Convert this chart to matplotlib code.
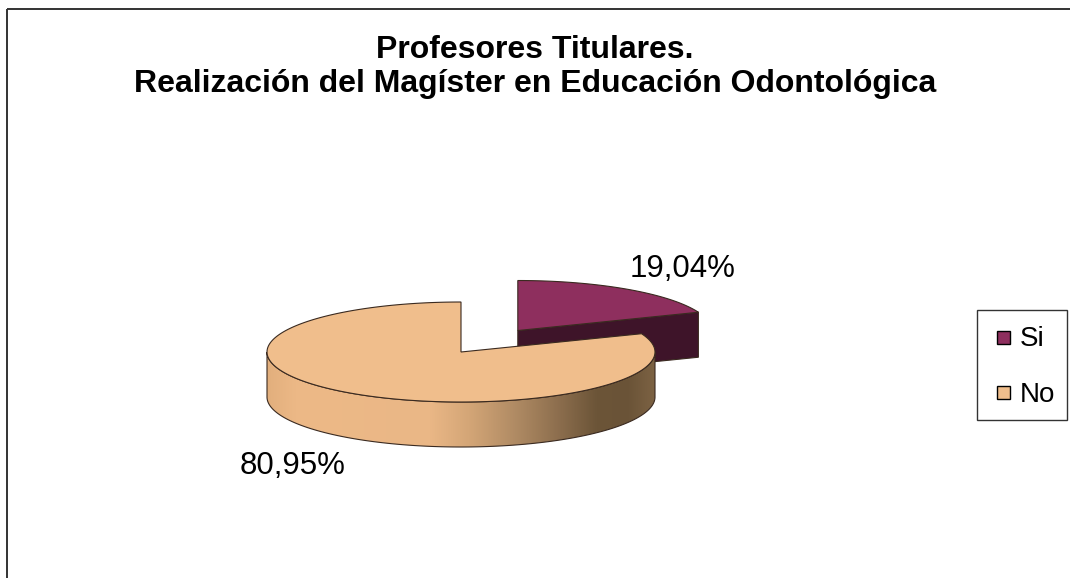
import numpy as np
import matplotlib
matplotlib.use("Agg")
import matplotlib.pyplot as plt
from matplotlib.patches import Polygon, Rectangle, Patch
from matplotlib.colors import LinearSegmentedColormap
from matplotlib.legend_handler import HandlerPatch

# ---- data ----
categories = ["Si", "No"]
values = [19.04, 80.95]
title_lines = ["Profesores Titulares.", "Realización del Magíster en Educación Odontológica"]

# ---- styles ----
top_colors = ["#8E2F5E", "#F0BE8C"]
side_colors = ["#3E1429", "#6E5638"]
edge_col = "#3a2a20"

W, H = 1070, 578
fig = plt.figure(figsize=(W / 100, H / 100), dpi=100)
ax = fig.add_axes([0, 0, 1, 1])
ax.set_xlim(0, W)
ax.set_ylim(H, 0)
ax.axis("off")

# chart frame
ax.add_patch(Rectangle((7, 9), W, H, fill=False, edgecolor="#333333", lw=1.4, zorder=1))

# pie geometry (pixel space)
cx, cy = 461.0, 352.0
rx, ry = 194.0, 50.0
depth = 45.0
explode = [0.52, 0.0]

total = sum(values)
fracs = [v / total for v in values]
start = 90.0
angles = []
a = start
for f in fracs:
    angles.append((a - f * 360.0, a))
    a -= f * 360.0


def pt(theta_deg, ox, oy, dz=0.0):
    t = np.radians(theta_deg)
    return ox + rx * np.cos(t), oy - ry * np.sin(t) + dz


def arc(t0, t1, ox, oy, dz=0.0, n=200):
    ts = np.linspace(t0, t1, n)
    return [pt(t, ox, oy, dz) for t in ts]


cmap = LinearSegmentedColormap.from_list(
    "side",
    [(0.0, "#E2AF7D"), (0.08, "#EDB987"), (0.42, "#EAB786"), (0.52, "#D4A677"),
     (0.64, "#B08B64"), (0.76, "#8A6C4C"), (0.85, "#6C5538"), (0.93, "#6A5337"),
     (1.0, "#7C6243")])

for i, (lo, hi) in enumerate(angles):
    mid = (lo + hi) / 2.0
    e = explode[i]
    ox = cx + e * rx * np.cos(np.radians(mid))
    oy = cy - e * ry * np.sin(np.radians(mid))
    z = 2 + i * 3
    if i == 0:
        p_top = pt(lo, ox, oy)
        face = [(ox, oy), p_top, (p_top[0], p_top[1] + depth), (ox, oy + depth)]
        ax.add_patch(Polygon(face, closed=True, facecolor=side_colors[i],
                             edgecolor=edge_col, lw=0.8, zorder=z))
    lo_u, hi_u = lo % 360, (lo % 360) + (hi - lo)
    vis = []
    for base in (0, 360, -360):
        s0 = max(lo_u, 180 + base)
        s1 = min(hi_u, 360 + base)
        if s1 > s0:
            vis.append((s0, s1))
    for s0, s1 in vis:
        top = arc(s0, s1, ox, oy)
        bot = arc(s1, s0, ox, oy, depth)
        poly = Polygon(top + bot, closed=True, facecolor="none",
                       edgecolor=edge_col, lw=0.8, zorder=z + 1)
        xs = [p[0] for p in top]
        im = ax.imshow(np.linspace(0, 1, 256).reshape(1, -1), cmap=cmap,
                       extent=[min(xs), max(xs), oy + ry + depth + 2, oy - 5],
                       aspect="auto", zorder=z, interpolation="bilinear")
        fill_poly = Polygon(top + bot, closed=True, facecolor="none", edgecolor="none")
        ax.add_patch(fill_poly)
        im.set_clip_path(fill_poly)
        ax.add_patch(poly)
    top = [(ox, oy)] + arc(lo, hi, ox, oy)
    ax.add_patch(Polygon(top, closed=True, facecolor=top_colors[i],
                         edgecolor=edge_col, lw=0.8, zorder=z + 2))

# data labels
fmt = [f"{v:.2f}".replace(".", ",") + "%" for v in values]
label_pos = [(683, 269), (293, 466)]
for s, (x, y) in zip(fmt, label_pos):
    ax.text(x, y, s, ha="center", va="center", fontsize=22.5,
            family="Liberation Sans", color="black", zorder=20)

# title
ax.text(535, 67, "\n".join(title_lines), ha="center", va="center",
        fontsize=23, fontweight="bold", family="Liberation Sans",
        linespacing=1.2, zorder=20)


# legend with small square keys
def small_square(legend, orig_handle, xdescent, ydescent, width, height, fontsize):
    s = 9.3
    return Rectangle((-xdescent + width - s, -ydescent + (height - s) / 2), s, s)


handles = [Patch(facecolor=c, edgecolor="black", lw=1.0, label=l)
           for c, l in zip(top_colors, categories)]
leg = ax.legend(handles=handles, loc="upper left",
                bbox_to_anchor=(977 / W, 1 - 310 / H), bbox_transform=fig.transFigure,
                frameon=True, fancybox=False, handlelength=0.75,
                handleheight=1.3, handletextpad=0.35, labelspacing=0.9,
                borderpad=0.43, borderaxespad=0,
                handler_map={Patch: HandlerPatch(patch_func=small_square)},
                prop={"family": "Liberation Sans", "size": 20})
leg.get_frame().set_edgecolor("black")
leg.get_frame().set_linewidth(1.0)
leg.set_zorder(30)

fig.savefig("out.png", dpi=100)
